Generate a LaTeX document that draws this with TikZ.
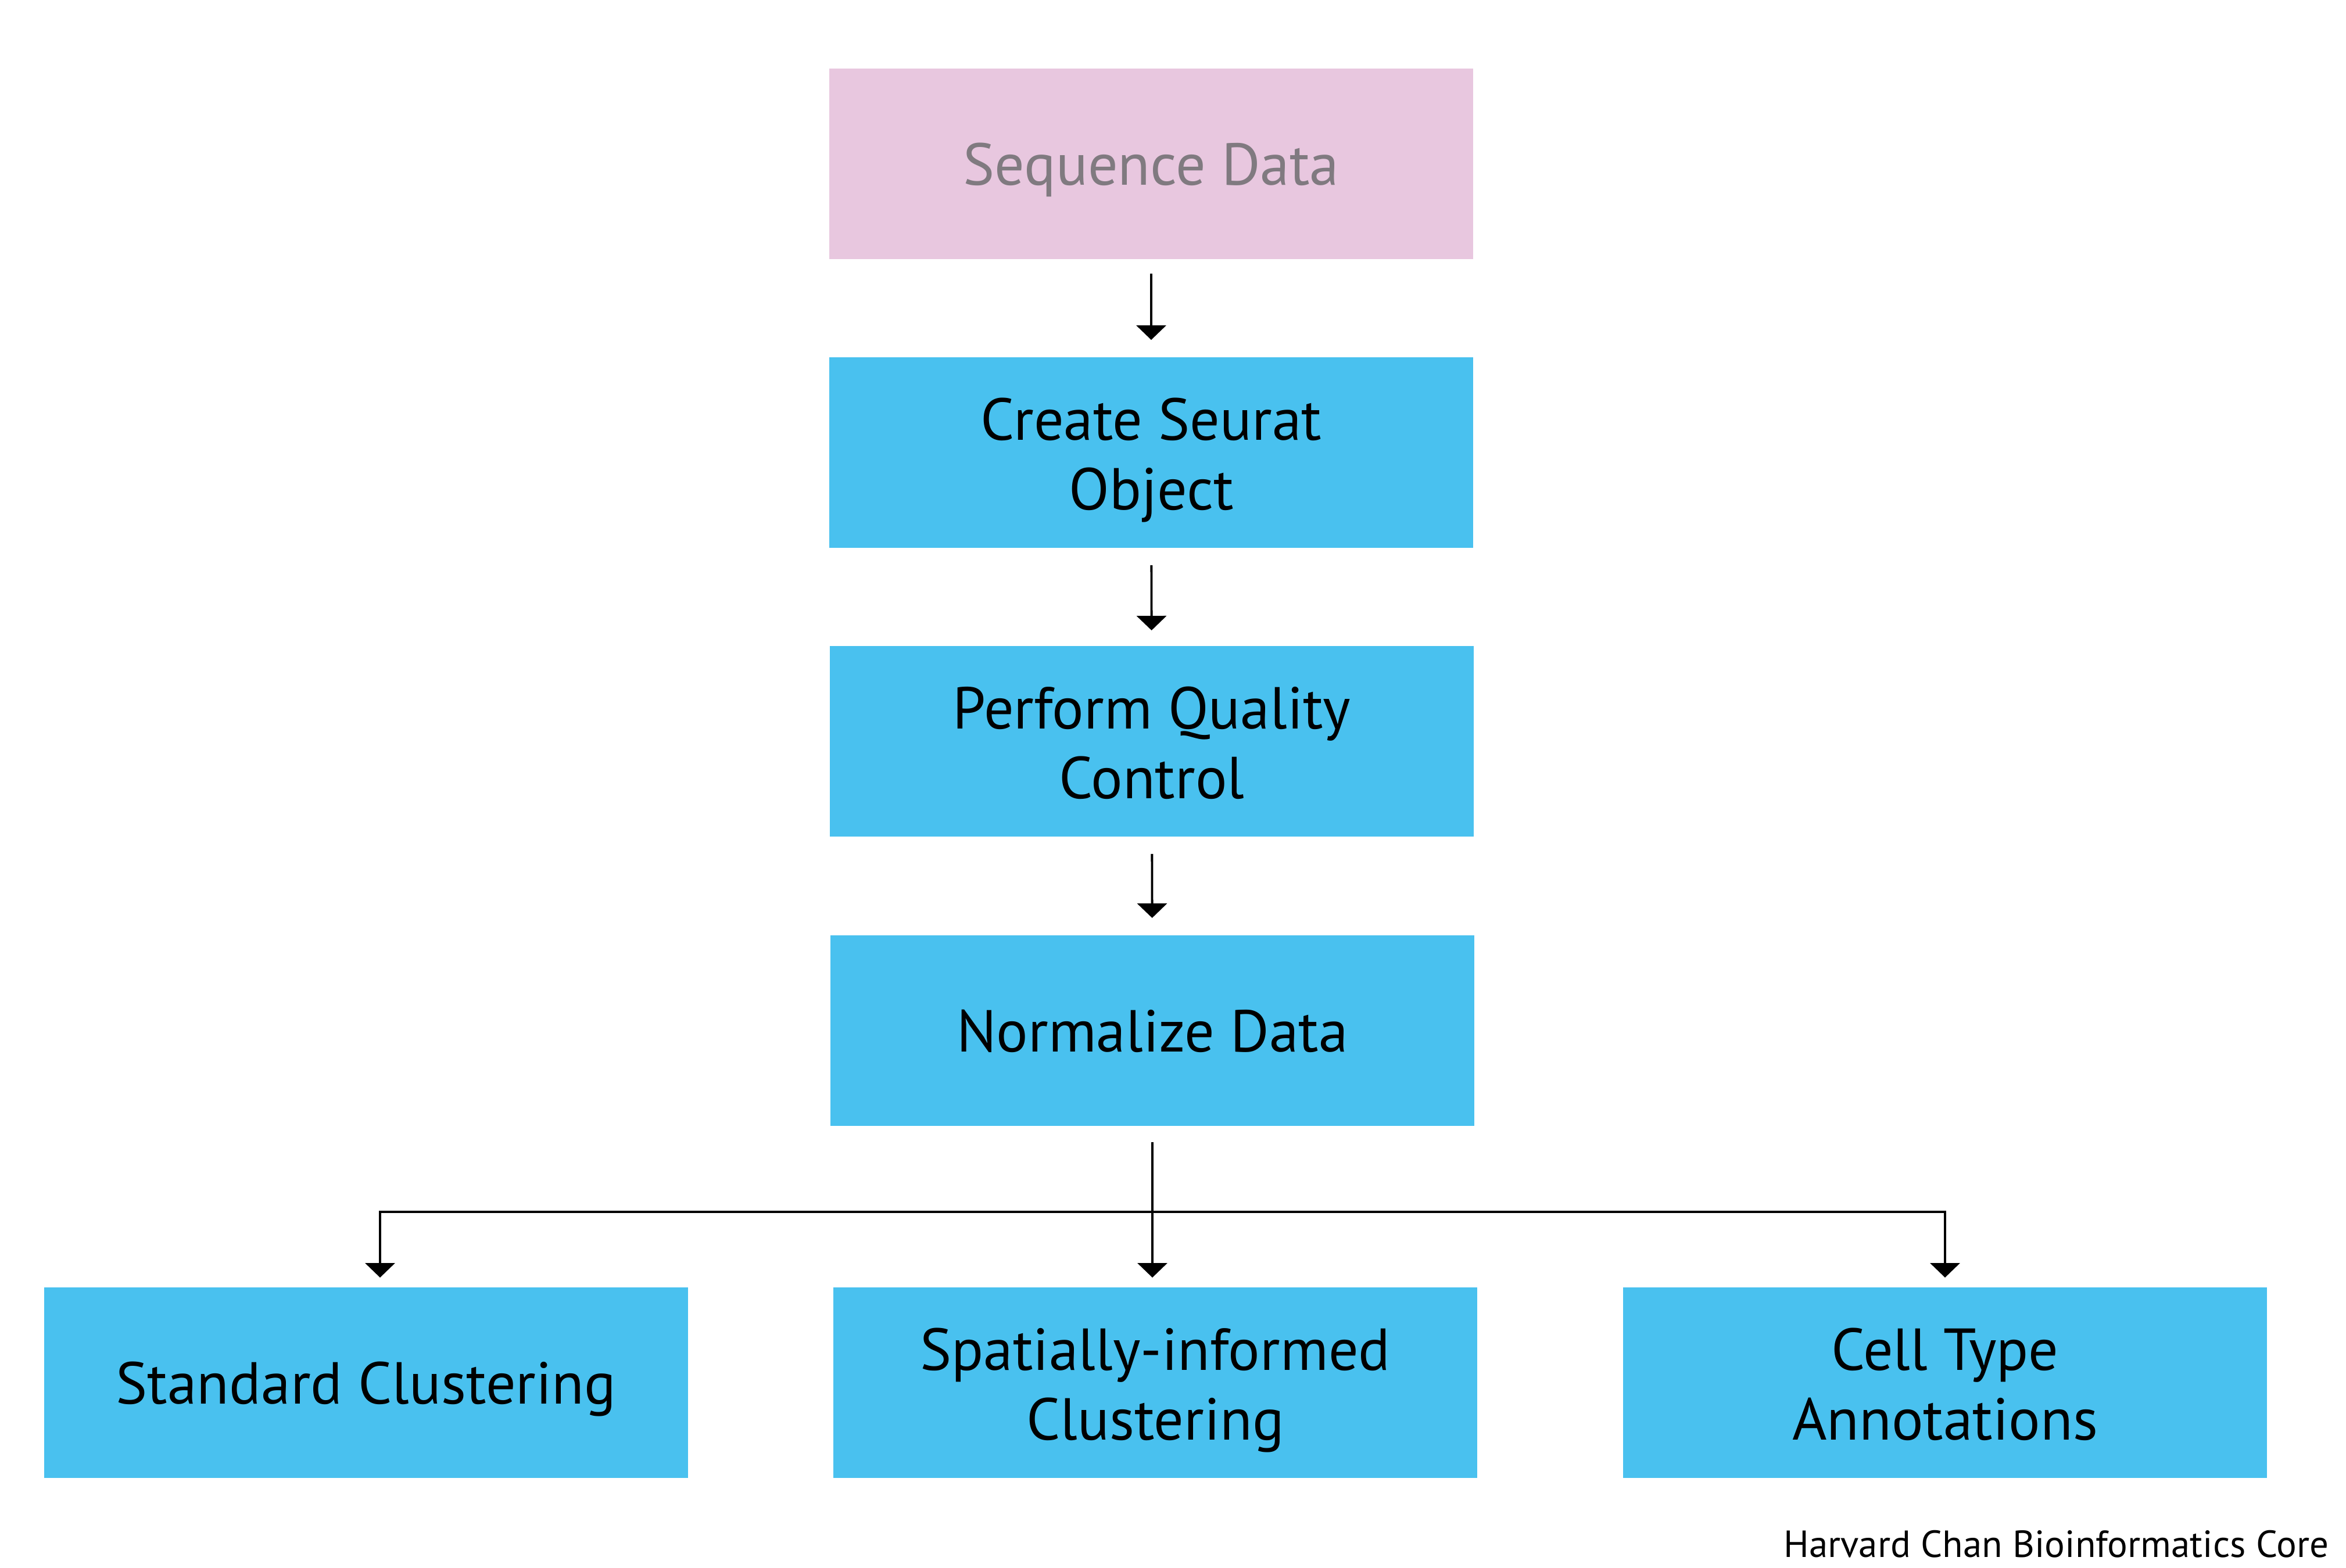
\documentclass[tikz,border=0pt]{standalone}
\usepackage{fontspec}
\setmainfont{PT Sans}
\usetikzlibrary{arrows.meta}
\definecolor{seqpink}{RGB}{232,199,223}
\definecolor{seqgray}{RGB}{128,122,128}
\definecolor{stepblue}{RGB}{73,193,239}
\begin{document}
\begin{tikzpicture}[line width=1.1pt,
  stepbox/.style={fill=stepblue,minimum width=11.08cm,minimum height=3.28cm,inner sep=0pt,align=center,font=\fontsize{29}{34}\selectfont,text depth=0.25cm,execute at begin node={\rule{0pt}{0.98cm}}},
  arr/.style={-{Triangle[width=0.51cm,length=0.25cm]}}]
\useasboundingbox (0,0) rectangle (40.37,26.99);
\node[stepbox,fill=seqpink,text=seqgray] (seq) at (19.81,24.17) {Sequence Data};
\node[stepbox] (create) at (19.81,19.20) {\rule{0pt}{1.02cm}Create Seurat\\Object};
\node[stepbox] (qc) at (19.82,14.23) {\rule{0pt}{1.02cm}Perform Quality\\Control};
\node[stepbox] (norm) at (19.83,9.25) {Normalize Data};
\node[stepbox] (stdclust) at (6.30,3.19) {Standard Clustering};
\node[stepbox] (spclust) at (19.88,3.19) {\rule{0pt}{1.02cm}Spatially-informed\\Clustering};
\node[stepbox] (celltype) at (33.47,3.19) {\rule{0pt}{1.02cm}Cell Type\\Annotations};
\node[anchor=base east,inner sep=0pt,font=\fontsize{18.5}{22}\selectfont] (credit) at (40.09,0.18) {Harvard Chan Bioinformatics Core};
\draw[arr,shorten <=0.23cm,shorten >=0.28cm] (seq) -- (create);
\draw[arr,shorten <=0.28cm,shorten >=0.25cm] (create) -- (qc);
\draw[arr,shorten <=0.28cm,shorten >=0.28cm] (qc) -- (norm);
\coordinate (split) at (19.83,6.13);
\draw[arr,shorten <=0.26cm,shorten >=0.15cm] (norm.south) -- (norm.south |- spclust.north);
\draw[arr,shorten >=0.15cm] (split) -| ([xshift=0.24cm]stdclust.north);
\draw[arr,shorten >=0.15cm] (split) -| (celltype.north);
\end{tikzpicture}
\end{document}
